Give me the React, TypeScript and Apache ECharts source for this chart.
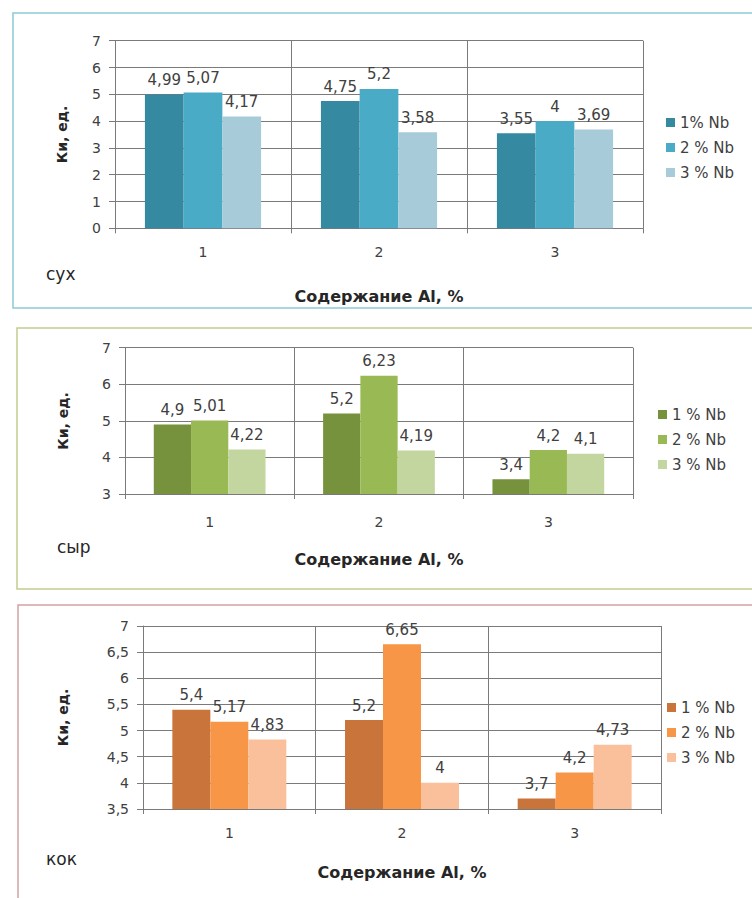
import React, { useEffect, useRef } from "react";
import * as echarts from "echarts";

// ---- data ----
const categories = ["1", "2", "3"];
const axisTitleX = "Содержание Al, %";
const axisTitleY = "Ки, ед.";

// panel 1: сух
const dryTag = "сух";
const dryNames = ["1% Nb", "2 % Nb", "3 % Nb"];
const dry1 = [4.99, 4.75, 3.55];
const dry2 = [5.07, 5.2, 4];
const dry3 = [4.17, 3.58, 3.69];
const dryAxis = [0, 7, 1]; // min, max, step

// panel 2: сыр
const rawTag = "сыр";
const rawNames = ["1 % Nb", "2 % Nb", "3 % Nb"];
const raw1 = [4.9, 5.2, 3.4];
const raw2 = [5.01, 6.23, 4.2];
const raw3 = [4.22, 4.19, 4.1];
const rawAxis = [3, 7, 1];

// panel 3: кок
const cokeTag = "кок";
const cokeNames = ["1 % Nb", "2 % Nb", "3 % Nb"];
const coke1 = [5.4, 5.2, 3.7];
const coke2 = [5.17, 6.65, 4.2];
const coke3 = [4.83, 4, 4.73];
const cokeAxis = [3.5, 7, 0.5];

// ---- styles / layout ----
const FONT = "DejaVu Sans";
const GRID_COLOR = "#7a7a7a";
const TEXT_COLOR = "#404040";

const panels = [
  {
    tag: dryTag, names: dryNames, values: [dry1, dry2, dry3], axis: dryAxis,
    colors: ["#3589a0", "#4aabc6", "#a7cbd9"],
    border: { x: 13, y: 13, w: 760, h: 295, color: "#8ccbd4" },
    grid: { left: 115, top: 40.7, width: 528, height: 187.6 },
    xLabelMargin: 17, xNameGap: 60, yNameGap: 46,
    legend: { left: 661, top: 110 },
    tagPos: { x: 46, y: 274 },
  },
  {
    tag: rawTag, names: rawNames, values: [raw1, raw2, raw3], axis: rawAxis,
    colors: ["#76923c", "#98b954", "#c4d6a0"],
    border: { x: 17, y: 328, w: 760, h: 261, color: "#c5cc8f" },
    grid: { left: 125, top: 347.7, width: 508, height: 146.3 },
    xLabelMargin: 21, xNameGap: 57, yNameGap: 55,
    legend: { left: 653, top: 402 },
    tagPos: { x: 57, y: 547 },
  },
  {
    tag: cokeTag, names: cokeNames, values: [coke1, coke2, coke3], axis: cokeAxis,
    colors: ["#c9743a", "#f79646", "#fac09c"],
    border: { x: 18, y: 605, w: 760, h: 310, color: "#d4a3a0" },
    grid: { left: 143, top: 626, width: 518, height: 183 },
    xLabelMargin: 17, xNameGap: 55, yNameGap: 73,
    legend: { left: 662, top: 695 },
    tagPos: { x: 46, y: 859 },
  },
];

const fmt = (v: number) => String(v).replace(".", ",");

function buildOption() {
  const grid: any[] = [];
  const xAxis: any[] = [];
  const yAxis: any[] = [];
  const series: any[] = [];
  const legend: any[] = [];
  const graphic: any[] = [];

  panels.forEach((p, i) => {
    graphic.push({
      type: "rect",
      silent: true,
      z: -10,
      shape: { x: p.border.x, y: p.border.y, width: p.border.w, height: p.border.h },
      style: { fill: "#ffffff", stroke: p.border.color, lineWidth: 1.5 },
    });
    graphic.push({
      type: "text",
      silent: true,
      x: p.tagPos.x,
      y: p.tagPos.y,
      style: {
        text: p.tag,
        font: `17px "${FONT}"`,
        fill: "#262626",
        verticalAlign: "middle",
        align: "left",
      },
    });

    grid.push({ ...p.grid, containLabel: false });

    xAxis.push({
      type: "category",
      gridIndex: i,
      data: categories,
      boundaryGap: true,
      axisLine: { show: true, lineStyle: { color: GRID_COLOR, width: 1 } },
      axisTick: { show: true, length: 5, lineStyle: { color: GRID_COLOR } },
      axisLabel: { margin: p.xLabelMargin, fontSize: 14, color: TEXT_COLOR, fontFamily: FONT },
      splitLine: { show: true, lineStyle: { color: GRID_COLOR, width: 1 } },
      name: axisTitleX,
      nameLocation: "middle",
      nameGap: p.xNameGap,
      nameTextStyle: { fontWeight: "bold", fontSize: 16, color: "#262626", fontFamily: FONT },
    });

    yAxis.push({
      type: "value",
      gridIndex: i,
      min: p.axis[0],
      max: p.axis[1],
      interval: p.axis[2],
      axisLine: { show: true, lineStyle: { color: GRID_COLOR, width: 1 } },
      axisTick: { show: true, length: 6, lineStyle: { color: GRID_COLOR } },
      axisLabel: { margin: 14, fontSize: 14, color: TEXT_COLOR, fontFamily: FONT, formatter: fmt },
      splitLine: { show: true, lineStyle: { color: GRID_COLOR, width: 1 } },
      name: axisTitleY,
      nameLocation: "middle",
      nameRotate: 90,
      nameGap: p.yNameGap,
      nameTextStyle: { fontWeight: "bold", fontSize: 14, color: "#262626", fontFamily: FONT },
    });

    p.names.forEach((name, k) => {
      series.push({
        type: "bar",
        name,
        xAxisIndex: i,
        yAxisIndex: i,
        data: p.values[k],
        barGap: "0%",
        barCategoryGap: "34%",
        itemStyle: { color: p.colors[k] },
        label: {
          show: true,
          position: "top",
          distance: 7,
          fontSize: 15,
          color: TEXT_COLOR,
          fontFamily: FONT,
          formatter: (q: any) => fmt(q.value),
        },
      });
    });

    legend.push({
      orient: "vertical",
      left: p.legend.left,
      top: p.legend.top,
      itemWidth: 9,
      itemHeight: 9,
      itemGap: 10,
      icon: "rect",
      selectedMode: false,
      textStyle: { fontSize: 15, color: TEXT_COLOR, fontFamily: FONT },
      data: p.names.map((n, k) => ({ name: n, itemStyle: { color: p.colors[k] } })),
    });
  });

  return {
    animation: false,
    backgroundColor: "#ffffff",
    textStyle: { fontFamily: FONT },
    grid,
    xAxis,
    yAxis,
    series,
    legend,
    graphic,
  };
}

export default function App() {
  const ref = useRef<HTMLDivElement>(null);
  useEffect(() => {
    if (!ref.current) return;
    const chart = echarts.init(ref.current, undefined, { renderer: "svg" });
    chart.setOption(buildOption() as any);
    return () => chart.dispose();
  }, []);
  return (
    <div
      ref={ref}
      style={{ position: "fixed", left: 0, top: 0, width: 752, height: 898, background: "#fff" }}
    />
  );
}
